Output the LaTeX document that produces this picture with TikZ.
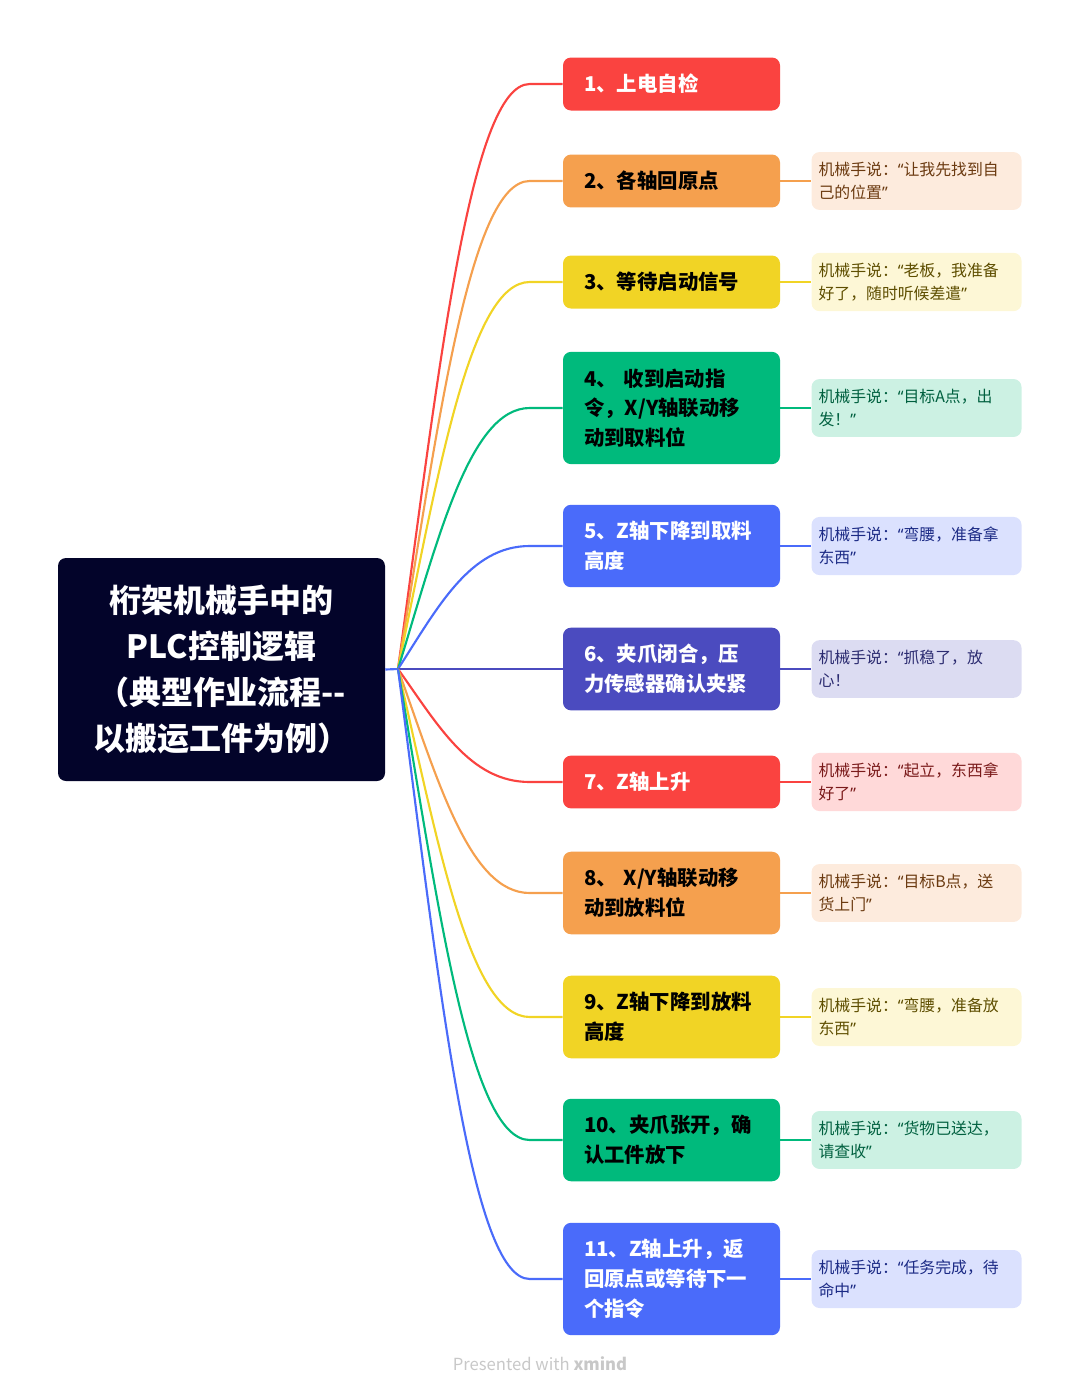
\documentclass[tikz,border=0pt]{standalone}
\usepackage{fontspec}
\setmainfont{Noto Sans CJK SC}
\newfontfamily\quotefont{Noto Sans}
\newcommand{\oq}{{\quotefont “}}
\newcommand{\cq}{{\quotefont ”}}
\usetikzlibrary{positioning}

\definecolor{rootbg}{HTML}{03042A}
\definecolor{cRed}{HTML}{FA4340}
\definecolor{cOrange}{HTML}{F5A04E}
\definecolor{cYellow}{HTML}{F1D425}
\definecolor{cGreen}{HTML}{00BA7C}
\definecolor{cBlue}{HTML}{4A6BFA}
\definecolor{cIndigo}{HTML}{4B4BBF}
\definecolor{nRed}{HTML}{FFD9D9}
\definecolor{nOrange}{HTML}{FDEBDD}
\definecolor{nYellow}{HTML}{FDF7D6}
\definecolor{nGreen}{HTML}{CCF1E3}
\definecolor{nBlue}{HTML}{DBE1FE}
\definecolor{nIndigo}{HTML}{DCDCF2}
\definecolor{tRed}{HTML}{7A1A1A}
\definecolor{tOrange}{HTML}{6B3A10}
\definecolor{tYellow}{HTML}{5E4E00}
\definecolor{tGreen}{HTML}{00603F}
\definecolor{tBlue}{HTML}{1B2A85}
\definecolor{tIndigo}{HTML}{2B2B70}
\definecolor{footgray}{HTML}{C8C8C8}

\tikzset{
  stepbox/.style={rounded corners=6pt,text width=131.25pt,inner xsep=15.75pt,inner ysep=12.5pt,align=left,font=\fontsize{15.3}{22.3}\selectfont\bfseries},
  notebox/.style={rounded corners=6pt,text width=147pt,inner xsep=5.25pt,inner ysep=7.6pt,align=left,font=\fontsize{11.9}{17.25}\selectfont},
  link/.style={line width=1.6pt}
}

\begin{document}
\begin{tikzpicture}[x=0.75pt,y=-0.75pt]
\useasboundingbox (0,0) rectangle (1080,1393);

% root
\node[fill=rootbg,text=white,rounded corners=6pt,text width=215.25pt,inner xsep=15pt,minimum height=167.25pt,align=center,font=\fontsize{24}{34.5}\selectfont\bfseries] (root) at (221.5,669.5) {桁架机械手中的\\PLC控制逻辑\\（典型作业流程-{}-\\以搬运工件为例）};
\coordinate (j) at (398,669);

% steps
\node[stepbox,fill=cRed,text=white] (s1) at (671.5,84) {1、上电自检};
\node[stepbox,fill=cOrange,text=black] (s2) at (671.5,181) {2、各轴回原点};
\node[stepbox,fill=cYellow,text=black] (s3) at (671.5,282) {3、等待启动信号};
\node[stepbox,fill=cGreen,text=black] (s4) at (671.5,408) {4、 收到启动指\\令，X/Y轴联动移\\动到取料位};
\node[stepbox,fill=cBlue,text=white] (s5) at (671.5,546) {5、Z轴下降到取料\\高度};
\node[stepbox,fill=cIndigo,text=white] (s6) at (671.5,669) {6、夹爪闭合，压\\力传感器确认夹紧};
\node[stepbox,fill=cRed,text=white] (s7) at (671.5,782) {7、Z轴上升};
\node[stepbox,fill=cOrange,text=black] (s8) at (671.5,893) {8、 X/Y轴联动移\\动到放料位};
\node[stepbox,fill=cYellow,text=black] (s9) at (671.5,1017) {9、Z轴下降到放料\\高度};
\node[stepbox,fill=cGreen,text=black] (s10) at (671.5,1140) {10、夹爪张开，确\\认工件放下};
\node[stepbox,fill=cBlue,text=white] (s11) at (671.5,1279) {11、Z轴上升，返\\回原点或等待下一\\个指令};

% notes
\node[notebox,fill=nOrange,text=tOrange,right=23.25pt of s2] (n2) {机械手说：\oq 让我先找到自\\己的位置\cq};
\node[notebox,fill=nYellow,text=tYellow,right=23.25pt of s3] (n3) {机械手说：\oq 老板，我准备\\好了，随时听候差遣\cq};
\node[notebox,fill=nGreen,text=tGreen,right=23.25pt of s4] (n4) {机械手说：\oq 目标A点，出\\发！\cq};
\node[notebox,fill=nBlue,text=tBlue,right=23.25pt of s5] (n5) {机械手说：\oq 弯腰，准备拿\\东西\cq};
\node[notebox,fill=nIndigo,text=tIndigo,right=23.25pt of s6] (n6) {机械手说：\oq 抓稳了，放\\心！};
\node[notebox,fill=nRed,text=tRed,right=23.25pt of s7] (n7) {机械手说：\oq 起立，东西拿\\好了\cq};
\node[notebox,fill=nOrange,text=tOrange,right=23.25pt of s8] (n8) {机械手说：\oq 目标B点，送\\货上门\cq};
\node[notebox,fill=nYellow,text=tYellow,right=23.25pt of s9] (n9) {机械手说：\oq 弯腰，准备放\\东西\cq};
\node[notebox,fill=nGreen,text=tGreen,right=23.25pt of s10] (n10) {机械手说：\oq 货物已送达，\\请查收\cq};
\node[notebox,fill=nBlue,text=tBlue,right=23.25pt of s11] (n11) {机械手说：\oq 任务完成，待\\命中\cq};

% branches
\draw[link,cBlue] (root.east) -- (j);
\draw[link,cRed] (j) .. controls +(40,-292) and +(-60,0) .. ([xshift=-24.75pt]s1.west) -- (s1.west);
\draw[link,cOrange] (j) .. controls +(40,-244) and +(-60,0) .. ([xshift=-24.75pt]s2.west) -- (s2.west);
\draw[link,cYellow] (j) .. controls +(40,-194) and +(-60,0) .. ([xshift=-24.75pt]s3.west) -- (s3.west);
\draw[link,cGreen] (j) .. controls +(40,-130) and +(-60,0) .. ([xshift=-24.75pt]s4.west) -- (s4.west);
\draw[link,cBlue] (j) .. controls +(40,-62) and +(-60,0) .. ([xshift=-24.75pt]s5.west) -- (s5.west);
\draw[link,cIndigo] (j) -- (s6.west);
\draw[link,cRed] (j) .. controls +(40,56) and +(-60,0) .. ([xshift=-24.75pt]s7.west) -- (s7.west);
\draw[link,cOrange] (j) .. controls +(40,112) and +(-60,0) .. ([xshift=-24.75pt]s8.west) -- (s8.west);
\draw[link,cYellow] (j) .. controls +(40,174) and +(-60,0) .. ([xshift=-24.75pt]s9.west) -- (s9.west);
\draw[link,cGreen] (j) .. controls +(40,236) and +(-60,0) .. ([xshift=-24.75pt]s10.west) -- (s10.west);
\draw[link,cBlue] (j) .. controls +(40,305) and +(-60,0) .. ([xshift=-24.75pt]s11.west) -- (s11.west);

% step to note
\draw[link,cOrange] (s2.east) -- (n2.west);
\draw[link,cYellow] (s3.east) -- (n3.west);
\draw[link,cGreen] (s4.east) -- (n4.west);
\draw[link,cBlue] (s5.east) -- (n5.west);
\draw[link,cIndigo] (s6.east) -- (n6.west);
\draw[link,cRed] (s7.east) -- (n7.west);
\draw[link,cOrange] (s8.east) -- (n8.west);
\draw[link,cYellow] (s9.east) -- (n9.west);
\draw[link,cGreen] (s10.east) -- (n10.west);
\draw[link,cBlue] (s11.east) -- (n11.west);

\node[font=\fontsize{12.5}{15}\selectfont,text=footgray] (footer) at (540,1364) {Presented with \textbf{xmind}};
\end{tikzpicture}
\end{document}
